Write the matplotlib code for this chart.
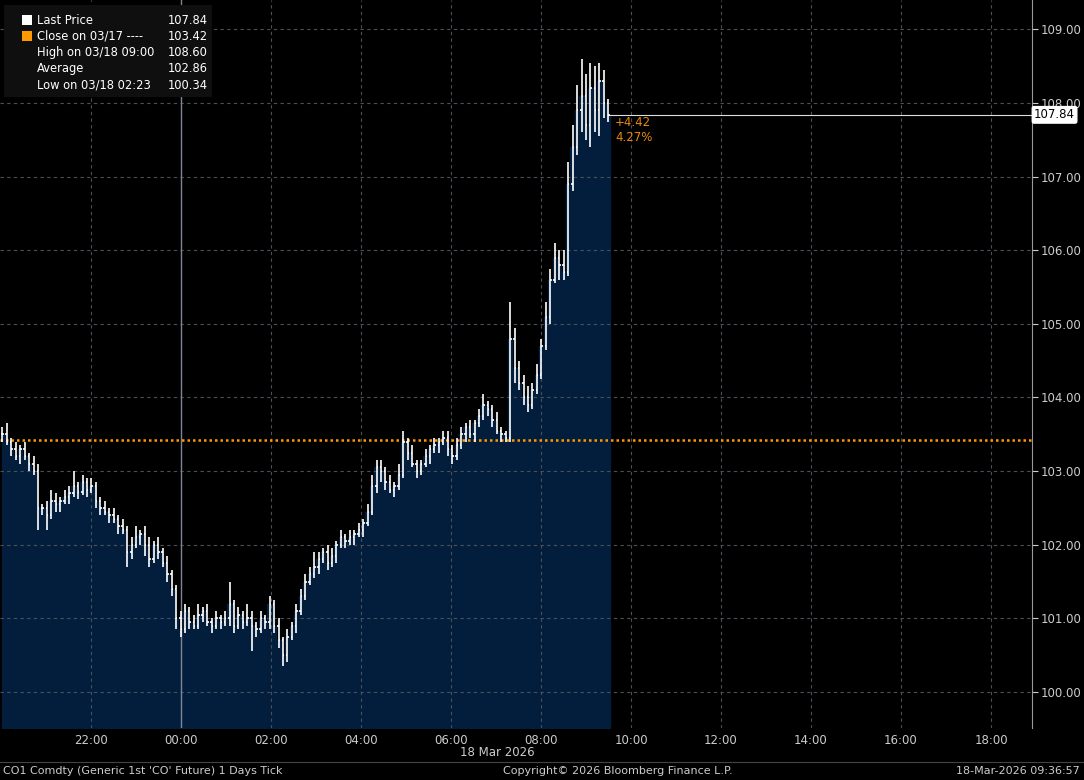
import matplotlib.pyplot as plt
import numpy as np

# 6-minute bars starting 17-Mar 20:00
closes = [103.5,103.4,103.3,103.2,103.3,103.2,103.1,103.0,102.5,102.5,
          102.4,102.6,102.55,102.6,102.65,102.7,102.8,102.72,102.85,102.75,
          102.8,102.6,102.5,102.45,102.4,102.35,102.25,102.2,101.9,102.0,
          102.1,102.15,102.0,101.8,102.0,101.9,101.75,101.6,101.4,101.0,
          100.85,101.1,100.95,100.9,101.05,101.1,100.95,100.9,101.0,100.95,
          101.0,101.2,100.9,101.05,100.95,101.0,100.9,100.85,101.0,100.95,
          101.2,100.9,100.7,100.5,100.75,100.9,101.1,101.3,101.5,101.6,
          101.7,101.8,101.9,101.75,101.85,102.0,102.1,102.05,102.1,102.15,
          102.2,102.3,102.45,102.8,103.05,103.0,102.85,102.75,102.8,102.95,
          103.4,103.25,103.1,103.0,103.1,103.2,103.3,103.35,103.4,103.45,
          103.3,103.2,103.35,103.5,103.6,103.5,103.65,103.75,103.9,103.85,
          103.7,103.55,103.5,103.45,104.8,104.4,104.2,104.0,103.9,104.1,
          104.3,104.7,105.1,105.6,105.9,105.8,105.7,106.9,107.4,107.9,
          108.1,107.7,108.2,107.9,108.3,108.0,107.84]
wick_up = [0.1,0.15,0.05,0.1,0.05,0.1,0.05,0.1,0.1,0.05,
           0.1,0.15,0.1,0.05,0.1,0.1,0.2,0.05,0.1,0.05,
           0.1,0.05,0.05,0.1,0.05,0.1,0.05,0.1,0.05,0.1,
           0.15,0.05,0.1,0.1,0.05,0.1,0.05,0.1,0.05,0.05,
           0.1,0.1,0.05,0.1,0.15,0.05,0.1,0.05,0.1,0.05,
           0.1,0.3,0.05,0.1,0.05,0.2,0.1,0.05,0.1,0.05,
           0.1,0.05,0.1,0.05,0.1,0.05,0.1,0.1,0.1,0.1,
           0.2,0.1,0.05,0.1,0.1,0.05,0.1,0.05,0.1,0.05,
           0.1,0.05,0.1,0.15,0.1,0.1,0.05,0.1,0.05,0.15,
           0.15,0.05,0.1,0.05,0.05,0.1,0.05,0.1,0.05,0.1,
           0.1,0.05,0.1,0.1,0.05,0.1,0.05,0.1,0.15,0.05,
           0.05,0.1,0.05,0.05,0.5,0.15,0.1,0.1,0.15,0.1,
           0.15,0.1,0.2,0.15,0.2,0.1,0.2,0.3,0.3,0.35,
           0.5,0.3,0.35,0.3,0.25,0.15,0.05]
wick_dn = [0.1,0.05,0.1,0.05,0.1,0.05,0.1,0.05,0.3,0.1,
           0.2,0.05,0.1,0.1,0.05,0.1,0.05,0.1,0.05,0.1,
           0.05,0.1,0.1,0.05,0.1,0.05,0.1,0.05,0.2,0.1,
           0.05,0.1,0.15,0.1,0.05,0.1,0.05,0.1,0.1,0.15,
           0.1,0.05,0.1,0.05,0.05,0.1,0.05,0.1,0.05,0.1,
           0.05,0.1,0.1,0.05,0.1,0.05,0.35,0.1,0.05,0.1,
           0.1,0.1,0.1,0.15,0.1,0.05,0.1,0.05,0.05,0.05,
           0.05,0.1,0.05,0.1,0.05,0.1,0.05,0.1,0.05,0.1,
           0.05,0.1,0.05,0.05,0.1,0.15,0.1,0.05,0.1,0.05,
           0.05,0.1,0.05,0.1,0.05,0.05,0.1,0.05,0.1,0.05,
           0.1,0.1,0.05,0.05,0.1,0.05,0.1,0.05,0.05,0.1,
           0.1,0.05,0.1,0.05,0.05,0.2,0.1,0.1,0.1,0.05,
           0.05,0.05,0.05,0.1,0.05,0.2,0.1,0.05,0.1,0.1,
           0.3,0.2,0.3,0.3,0.35,0.2,0.1]
prev_close = 103.42
ytick_vals = [100, 101, 102, 103, 104, 105, 106, 107, 108, 109]
xtick_hours = [2, 4, 6, 8, 10, 12, 14, 16, 18, 20, 22]
xtick_labels = ['22:00', '00:00', '02:00', '04:00', '06:00', '08:00',
                '10:00', '12:00', '14:00', '16:00', '18:00']
legend_rows = [('Last Price', '107.84'), ('Close on 03/17 ----', '103.42'),
               ('High on 03/18 09:00', '108.60'), ('Average', '102.86'),
               ('Low on 03/18 02:23', '100.34')]

n = len(closes)
# bar spacing a touch under 6 min of axis so the last bar sits where the reference shows it
x = np.arange(n) * 0.099 + 0.03
opens = [closes[0]] + closes[:-1]
highs = [max(o, c) + u for o, c, u in zip(opens, closes, wick_up)]
lows = [min(o, c) - d for o, c, d in zip(opens, closes, wick_dn)]

fig = plt.figure(figsize=(10.84, 7.80), dpi=100, facecolor='black')
ax = fig.add_axes([0, 52 / 780, 1032 / 1084, 728 / 780])
ax.set_facecolor('black')
ax.set_xlim(-1 / 45, 1031 / 45)
ax.set_ylim(99.51, 109.40)

ax.fill_between(np.append(x, x[-1] + 0.05), np.append(closes, closes[-1]), 99.51,
                step='mid', color='#031e3c', zorder=1)

grid_c = '#4a505a'
for yv in ytick_vals:
    ax.axhline(yv, color=grid_c, lw=0.8, ls=(0, (3, 3)), zorder=2)
for xv in xtick_hours:
    if xv == 4:
        ax.axvline(xv, color='#7d8696', lw=1.0, zorder=2)
    else:
        ax.axvline(xv, color=grid_c, lw=0.8, ls=(0, (3, 3)), zorder=2)

ax.vlines(x, lows, highs, color='white', lw=1.2, zorder=4)
ax.hlines(opens, x - 0.03, x, color='white', lw=1.2, zorder=4)
ax.hlines(closes, x, x + 0.03, color='white', lw=1.2, zorder=4)

ax.axhline(prev_close, color='#ff9900', lw=1.8, ls=(0, (1, 1.2)), zorder=3)
ax.plot([x[-1], 1031 / 45], [closes[-1], closes[-1]], color='#dddddd', lw=0.8, zorder=3)
ax.text(x[-1] + 0.15, closes[-1] - 0.02, '+4.42', color='#e8890c', fontsize=8.5, va='top')
ax.text(x[-1] + 0.15, closes[-1] - 0.22, '4.27%', color='#e8890c', fontsize=8.5, va='top')

ax.yaxis.tick_right()
ax.set_yticks(ytick_vals)
ax.set_yticklabels(['%.2f' % v for v in ytick_vals])
ax.set_xticks(xtick_hours)
ax.set_xticklabels(xtick_labels)
ax.tick_params(colors='#cccccc', labelsize=8.5, length=4)
ax.tick_params(axis='y', pad=2)
ax.tick_params(axis='x', length=0, pad=4)
for s in ['top', 'left', 'bottom']:
    ax.spines[s].set_visible(False)
ax.spines['right'].set_color('#999999')
ax.text(1.002, closes[-1], '107.84', transform=ax.get_yaxis_transform(), color='black',
        fontsize=8.5, va='center', ha='left',
        bbox=dict(boxstyle='round,pad=0.15', fc='white', ec='white'))

# legend panel
fig.patches.append(plt.Rectangle((4 / 1084, 1 - 97 / 780), 208 / 1084, 92 / 780,
                                 transform=fig.transFigure, fc='#0f0f0f', ec='none', zorder=5))
for i, (name, val) in enumerate(legend_rows):
    yy = 1 - (20 + i * 16.3) / 780
    fig.text(37 / 1084, yy, name, color='white', fontsize=8.3, va='center', zorder=6)
    fig.text(208 / 1084, yy, val, color='white', fontsize=8.3, va='center', ha='right', zorder=6)
fig.patches.append(plt.Rectangle((22 / 1084, 1 - 25 / 780), 10 / 1084, 10 / 780,
                                 transform=fig.transFigure, fc='white', zorder=6))
fig.patches.append(plt.Rectangle((22 / 1084, 1 - 41 / 780), 10 / 1084, 10 / 780,
                                 transform=fig.transFigure, fc='#ff9900', zorder=6))

fig.text(497 / 1084, 1 - 753 / 780, '18 Mar 2026', color='#cccccc', fontsize=8.5, ha='center', va='center')
fig.add_artist(plt.Line2D([0, 1], [1 - 762 / 780] * 2, color='#444444', lw=0.8))
fig.text(3 / 1084, 1 - 771 / 780, "CO1 Comdty (Generic 1st 'CO' Future) 1 Days Tick",
         color='#cccccc', fontsize=8, va='center')
fig.text(618 / 1084, 1 - 771 / 780, 'Copyright\u00a9 2026 Bloomberg Finance L.P.',
         color='#cccccc', fontsize=8, va='center', ha='center')
fig.text(1080 / 1084, 1 - 771 / 780, '18-Mar-2026 09:36:57', color='#cccccc',
         fontsize=8, va='center', ha='right')

fig.savefig('out.png', dpi=100, facecolor='black')
